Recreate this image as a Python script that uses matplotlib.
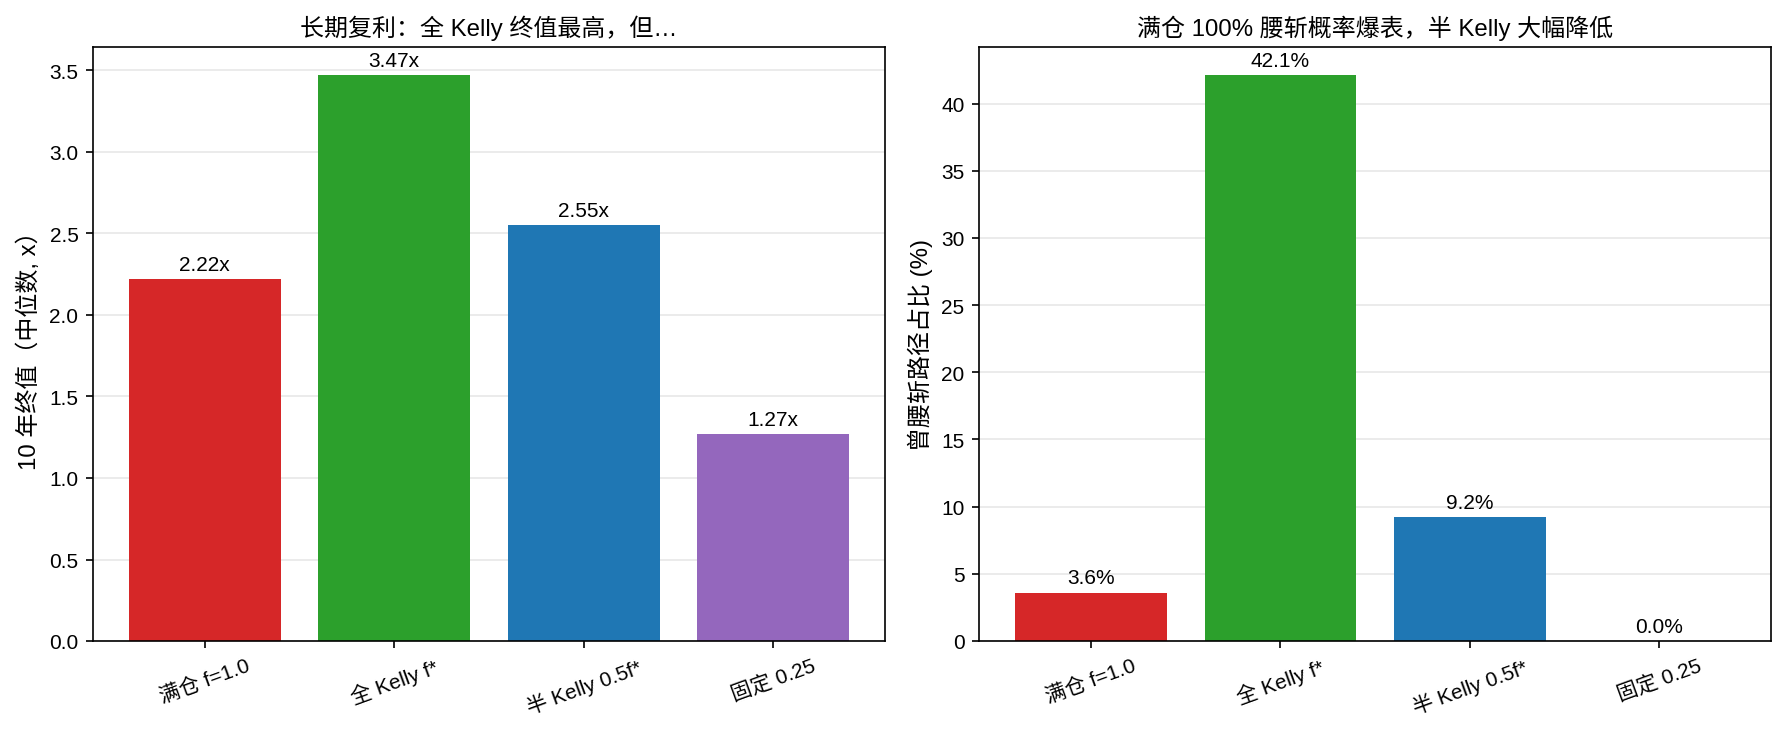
import matplotlib
matplotlib.use("Agg")
import matplotlib.pyplot as plt

plt.rcParams['font.family'] = ['Liberation Sans', 'Noto Sans CJK SC', 'DejaVu Sans']
plt.rcParams['axes.unicode_minus'] = False

# 数据
strategies = ['满仓 f=1.0', '全 Kelly f*', '半 Kelly 0.5f*', '固定 0.25']
final_median = [2.22, 3.47, 2.55, 1.27]
ruin_pct = [3.6, 42.1, 9.2, 0.0]
colors = ['#d62728', '#2ca02c', '#1f77b4', '#9467bd']

fig = plt.figure(figsize=(11.9, 4.893), dpi=150)
ax1 = fig.add_axes([0.0521, 0.1253, 0.4437, 0.8093])
ax2 = fig.add_axes([0.5485, 0.1253, 0.4437, 0.8093])

# 左图: 终值
bars = ax1.bar(strategies, final_median, color=colors)
ax1.bar_label(bars, labels=[f'{v:.2f}x' for v in final_median], padding=2.5, fontsize=10)
ax1.set_title('长期复利：全 Kelly 终值最高，但…', fontsize=11.5)
ax1.set_ylabel('10 年终值（中位数, x）', fontsize=11.5)
ax1.grid(axis='y', alpha=0.3)
ax1.set_axisbelow(True)
ax1.tick_params(axis='x', rotation=20)

# 右图: 腰斩概率
bars = ax2.bar(strategies, ruin_pct, color=colors)
ax2.bar_label(bars, labels=[f'{v:.1f}%' for v in ruin_pct], padding=2.5, fontsize=10)
ax2.set_title('满仓 100% 腰斩概率爆表，半 Kelly 大幅降低', fontsize=11.5)
ax2.set_ylabel('曾腰斩路径占比 (%)', fontsize=11.5)
ax2.grid(axis='y', alpha=0.3)
ax2.set_axisbelow(True)
ax2.tick_params(axis='x', rotation=20)

fig.savefig('out.png', dpi=150)
